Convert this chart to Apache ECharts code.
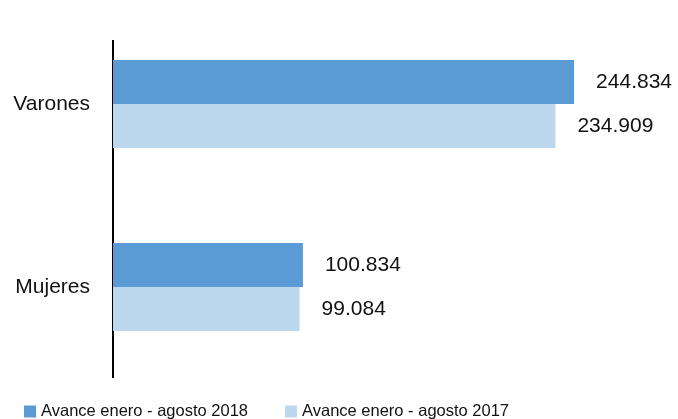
<!DOCTYPE html>
<html>
<head>
<meta charset="utf-8">
<script src="https://cdn.jsdelivr.net/npm/echarts@6/dist/echarts.min.js"></script>
<style>
  html, body { margin: 0; padding: 0; background: #fff; }
  #chart { width: 678px; height: 419px; }
</style>
</head>
<body>
<div id="chart"></div>
<script>
const categories = ["Varones", "Mujeres"];
const seriesNames = ["Avance enero - agosto 2018", "Avance enero - agosto 2017"];
const values2018 = [244834, 100834];
const values2017 = [234909, 99084];
const colors = ["#5B9BD5", "#BDD7EE"];

// 244834 -> "244.834"
function fmt(v) {
  return String(v).replace(/\B(?=(\d{3})+(?!\d))/g, ".");
}

const chart = echarts.init(document.getElementById("chart"));
const labelStyle = {
  show: true,
  position: "right",
  distance: 22,
  color: "#111",
  fontFamily: "Liberation Sans",
  fontSize: 21,
  formatter: (p) => fmt(p.value),
};
const option = {
  animation: false,
  grid: { left: 113, right: 0, top: 12.5, bottom: 40.5 },
  xAxis: {
    type: "value",
    min: 0,
    max: 300000,
    show: false,
  },
  yAxis: {
    type: "category",
    data: categories,
    inverse: true,
    axisLine: { show: false },
    axisTick: { show: false },
    axisLabel: {
      margin: 23,
      color: "#111",
      fontFamily: "Liberation Sans",
      fontSize: 21,
    },
  },
  legend: {
    data: seriesNames,
    left: 24,
    top: 403,
    padding: 0,
    itemWidth: 12,
    itemHeight: 12,
    itemGap: 37,
    icon: "rect",
    textStyle: { fontFamily: "Liberation Sans", fontSize: 16.5, color: "#111" },
  },
  // the vertical axis line in the original stops short of the top
  graphic: [
    {
      type: "line",
      shape: { x1: 113, y1: 40, x2: 113, y2: 378 },
      style: { stroke: "#000", lineWidth: 2 },
    },
  ],
  series: [
    {
      name: seriesNames[0],
      type: "bar",
      data: values2018,
      itemStyle: { color: colors[0] },
      barGap: "0%",
      barCategoryGap: "52%",
      label: labelStyle,
    },
    {
      name: seriesNames[1],
      type: "bar",
      data: values2017,
      itemStyle: { color: colors[1] },
      barGap: "0%",
      barCategoryGap: "52%",
      label: labelStyle,
    },
  ],
};
chart.setOption(option);
</script>
</body>
</html>
